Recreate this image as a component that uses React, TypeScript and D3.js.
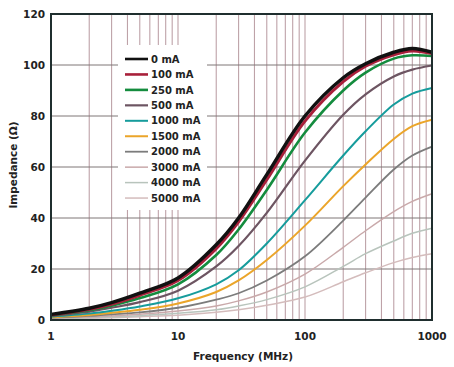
import React from 'react';
import * as d3 from 'd3';

// frequency sample points (MHz)
const freqs = [1, 2, 3, 5, 10, 20, 30, 50, 100, 200, 300, 500, 700, 1000];

// impedance (ohm) per bias current
const z0 = [2.2, 4.6, 6.8, 10.5, 16.5, 29.5, 40, 57, 80, 95, 100.5, 105, 106.5, 105];
const z100 = [2.0, 4.2, 6.2, 9.7, 15.5, 28, 38.5, 55, 78, 93.5, 99.5, 104, 105.5, 104.5];
const z250 = [1.8, 3.8, 5.6, 8.6, 14, 25.5, 35.5, 51, 73.5, 90, 97, 102.5, 103.8, 103.5];
const z500 = [1.6, 3.3, 4.8, 7, 11.5, 21, 29, 42, 62.5, 80.5, 88.5, 95.5, 98.2, 99.8];
const z1000 = [1.3, 2.5, 3.6, 5.3, 8.5, 14, 19.5, 30, 47, 64.5, 74, 84.5, 88.8, 91];
const z1500 = [1.1, 2, 2.8, 4, 6.5, 11, 15.5, 23.5, 37, 52.5, 61, 71, 76, 78.5];
const z2000 = [0.9, 1.6, 2.2, 3, 4.8, 8, 10.5, 15.5, 25, 39, 48, 59, 64.5, 68];
const z3000 = [0.7, 1.2, 1.6, 2.3, 3.5, 5.5, 7.5, 11, 18, 28.5, 35, 42.5, 46.5, 49.5];
const z4000 = [0.5, 0.9, 1.2, 1.7, 2.6, 4, 5.5, 8, 13, 21, 26, 31, 34, 36];
const z5000 = [0.4, 0.7, 0.9, 1.3, 1.9, 3, 4, 5.8, 9, 15, 18.5, 22.5, 24.5, 26];

const seriesLabels = ['0 mA', '100 mA', '250 mA', '500 mA', '1000 mA', '1500 mA', '2000 mA', '3000 mA', '4000 mA', '5000 mA'];
const seriesValues = [z0, z100, z250, z500, z1000, z1500, z2000, z3000, z4000, z5000];

const yTicks = [0, 20, 40, 60, 80, 100, 120];
const xTicks = [1, 10, 100, 1000];

const colors = ['#111111', '#a8203a', '#148c3e', '#6d5562', '#169c9c', '#eba52a', '#7c7c7c', '#c9a9aa', '#b8c4bc', '#d4bcbc'];
const widths = [3.5, 3, 2.6, 2.2, 2, 2, 1.8, 1.5, 1.5, 1.5];

const W = 454;
const H = 367;
const font = '"DejaVu Sans", Verdana, sans-serif';

export default function App() {
  const x = d3.scaleLog().domain([1, 1000]).range([51, 432]);
  const y = d3.scaleLinear().domain([0, 120]).range([320, 14]);

  const line = d3
    .line<[number, number]>()
    .x((d) => x(d[0]))
    .y((d) => y(d[1]))
    .curve(d3.curveCatmullRom.alpha(0.5));

  // minor grid at 2..9 of every decade, plus 10 and 100
  const vGrid: number[] = [];
  [1, 10, 100].forEach((dec) => {
    for (let k = 1; k <= 9; k++) {
      const v = k * dec;
      if (v > 1 && v < 1000) vGrid.push(v);
    }
  });
  const hGrid = yTicks.filter((t) => t > 0 && t < 120);

  const legX = 125;
  const legY = 59;
  const legStep = 15.45;

  return (
    <svg width={W} height={H} style={{ position: 'absolute', left: 0, top: 0, background: '#fff' }}>
      {/* grid */}
      {vGrid.map((v) => (
        <line key={'v' + v} x1={x(v)} x2={x(v)} y1={y(120)} y2={y(0)} stroke="#bea2a8" strokeWidth={1.1} />
      ))}
      {hGrid.map((t) => (
        <line key={'h' + t} x1={x(1)} x2={x(1000)} y1={y(t)} y2={y(t)} stroke="#7f7777" strokeWidth={1} />
      ))}

      {/* legend box hides the grid */}
      <rect x={118} y={45} width={89} height={165} fill="#fff" />

      {/* curves, light ones first */}
      {seriesValues
        .map((vals, i) => ({ vals, i }))
        .reverse()
        .map(({ vals, i }) => (
          <path
            key={seriesLabels[i]}
            d={line(freqs.map((f, j) => [f, vals[j]] as [number, number])) || ''}
            fill="none"
            stroke={colors[i]}
            strokeWidth={widths[i]}
            strokeLinejoin="round"
          />
        ))}

      {/* frame */}
      <rect x={x(1)} y={y(120)} width={x(1000) - x(1)} height={y(0) - y(120)} fill="none" stroke="#1f2e2e" strokeWidth={2} />

      {/* y tick labels */}
      {yTicks.map((t) => (
        <text key={'yt' + t} x={45} y={y(t)} dy="0.36em" textAnchor="end" fontFamily={font} fontWeight="bold" fontSize={10.5} fill="#222">
          {t}
        </text>
      ))}
      {/* x tick labels */}
      {xTicks.map((t) => (
        <text key={'xt' + t} x={x(t)} y={340} textAnchor="middle" fontFamily={font} fontWeight="bold" fontSize={10.5} fill="#222">
          {t}
        </text>
      ))}

      <text x={243} y={360} textAnchor="middle" fontFamily={font} fontWeight="bold" fontSize={10.5} fill="#222">
        Frequency (MHz)
      </text>
      <text
        transform={`translate(17,165) rotate(-90)`}
        textAnchor="middle"
        fontFamily={font}
        fontWeight="bold"
        fontSize={10.5}
        fill="#222"
      >
        Impedance (Ω)
      </text>

      {/* legend */}
      {seriesLabels.map((lab, i) => (
        <g key={'lg' + lab} transform={`translate(${legX},${legY + i * legStep})`}>
          <line x1={0} x2={23} y1={0} y2={0} stroke={colors[i]} strokeWidth={Math.min(widths[i], 2.6)} />
          <text x={26} y={0} dy="0.36em" fontFamily={font} fontWeight="bold" fontSize={10} fill="#222">
            {lab}
          </text>
        </g>
      ))}
    </svg>
  );
}
